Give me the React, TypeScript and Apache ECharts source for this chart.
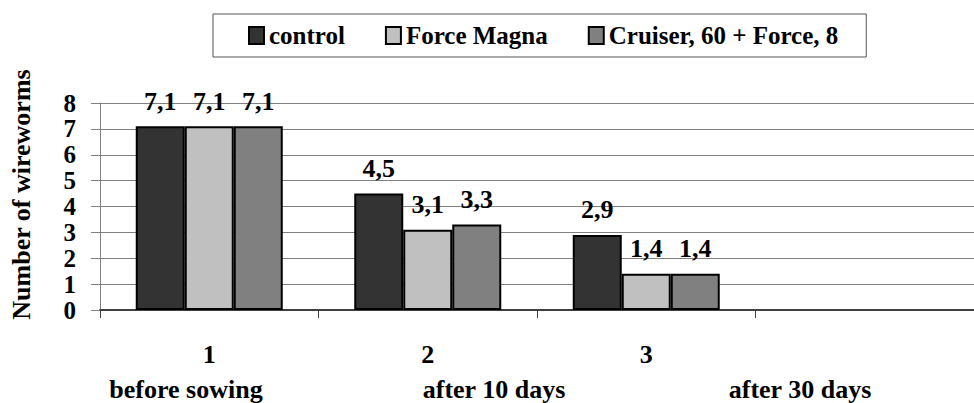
import React, { useEffect, useRef } from "react";
import * as echarts from "echarts";

const categories = ["1", "2", "3", ""];
const periods = ["before sowing", "after 10 days", "after 30 days"];
const seriesNames = ["control", "Force Magna", "Cruiser, 60 + Force, 8"];
const controlValues = [7.1, 4.5, 2.9, null];
const forceMagnaValues = [7.1, 3.1, 1.4, null];
const cruiserValues = [7.1, 3.3, 1.4, null];
const yTicks = [0, 1, 2, 3, 4, 5, 6, 7, 8];

const FONT = "'Liberation Serif', 'Times New Roman', serif";
const colors = ["#333333", "#c0c0c0", "#808080"];
const periodCenters = [186, 494, 800];

export default function App() {
  const ref = useRef<HTMLDivElement>(null);
  useEffect(() => {
    if (!ref.current) return;
    const chart = echarts.init(ref.current, undefined, { renderer: "svg" });
    const values = [controlValues, forceMagnaValues, cruiserValues];
    chart.setOption({
      animation: false,
      backgroundColor: "#ffffff",
      color: colors,
      textStyle: { fontFamily: FONT },
      legend: {
        top: 14,
        left: 213,
        padding: [9, 28, 9, 35],
        itemGap: 40,
        itemWidth: 15,
        itemHeight: 17,
        icon: "rect",
        borderColor: "#555555",
        borderWidth: 1,
        textStyle: { fontFamily: FONT, fontWeight: "bold", fontSize: 25, color: "#000" },
        data: seriesNames,
      },
      grid: { left: 99, right: -13, top: 103, bottom: 93 },
      xAxis: {
        type: "category",
        data: categories,
        axisLine: { lineStyle: { color: "#404040", width: 2 } },
        axisTick: { show: true, length: 8, alignWithLabel: false, lineStyle: { color: "#404040" } },
        axisLabel: {
          margin: 31,
          fontFamily: FONT,
          fontWeight: "bold",
          fontSize: 26,
          color: "#000",
          interval: 0,
        },
      },
      yAxis: {
        type: "value",
        min: yTicks[0],
        max: yTicks[yTicks.length - 1],
        interval: 1,
        name: "Number of wireworms",
        nameLocation: "middle",
        nameGap: 66,
        nameTextStyle: {
          fontFamily: FONT,
          fontWeight: "bold",
          fontSize: 26,
          color: "#000",
          padding: [0, 0, 0, 24],
        },
        axisLine: { show: true, lineStyle: { color: "#808080", width: 1 } },
        axisTick: { show: true, length: 9, lineStyle: { color: "#808080" } },
        axisLabel: {
          margin: 24,
          fontFamily: FONT,
          fontWeight: "bold",
          fontSize: 25,
          lineHeight: 20,
          color: "#000",
        },
        splitLine: { show: true, lineStyle: { color: "#808080", width: 1 } },
      },
      series: seriesNames.map((name, i) => ({
        name,
        type: "bar",
        data: values[i],
        barWidth: 49,
        barGap: "0%",
        itemStyle: { color: colors[i], borderColor: "#000", borderWidth: 2 },
        label: {
          show: true,
          position: "top",
          distance: 12,
          fontFamily: FONT,
          fontWeight: "bold",
          fontSize: 26,
          color: "#000",
          formatter: (p: any) => String(p.value).replace(".", ","),
        },
      })),
      graphic: periods.map((t, i) => ({
        type: "text",
        x: periodCenters[i],
        y: 389,
        style: {
          text: t,
          fontFamily: FONT,
          fontWeight: "bold",
          fontSize: 26,
          fill: "#000",
          align: "center",
          verticalAlign: "middle",
        },
      })),
    });
    return () => chart.dispose();
  }, []);
  return (
    <div
      ref={ref}
      style={{ position: "fixed", left: 0, top: 0, width: 974, height: 403, background: "#fff" }}
    />
  );
}
